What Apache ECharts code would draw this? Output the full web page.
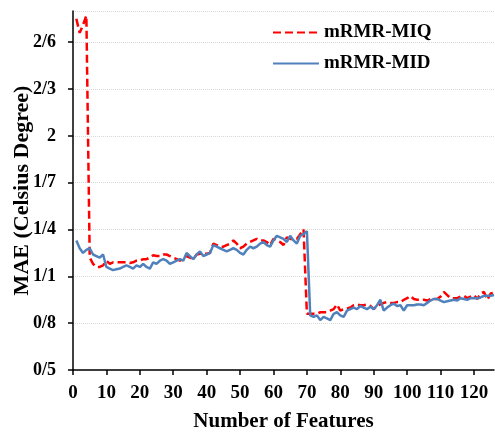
<!DOCTYPE html>
<html>
<head>
<meta charset="utf-8">
<script src="https://cdn.jsdelivr.net/npm/echarts@6/dist/echarts.min.js"></script>
<style>
  html, body { margin: 0; padding: 0; background: #fff; }
  #chart { width: 495px; height: 435px; }
</style>
</head>
<body>
<div id="chart"></div>
<script>
// number of features 1..126
var features = [];
for (var i = 1; i <= 126; i++) features.push(i);

// mRMR-MIQ (red dashed)
var miq = [
  2.75, 2.66, 2.71, 2.77, 1.22, 1.18, 1.16, 1.16, 1.17, 1.20,
  1.18, 1.19, 1.19, 1.19, 1.19, 1.19, 1.185, 1.19, 1.20, 1.20,
  1.21, 1.21, 1.22, 1.235, 1.23, 1.23, 1.24, 1.24, 1.23, 1.22,
  1.21, 1.20, 1.22, 1.23, 1.22, 1.21, 1.24, 1.245, 1.245, 1.245,
  1.25, 1.31, 1.30, 1.29, 1.29, 1.30, 1.31, 1.33, 1.31, 1.28,
  1.29, 1.31, 1.32, 1.33, 1.34, 1.33, 1.33, 1.32, 1.30, 1.34,
  1.33, 1.32, 1.30, 1.35, 1.34, 1.34, 1.34, 1.37, 1.40, 0.86,
  0.86, 0.86, 0.86, 0.87, 0.87, 0.87, 0.88, 0.89, 0.92, 0.88,
  0.89, 0.895, 0.90, 0.915, 0.92, 0.915, 0.915, 0.92, 0.91, 0.89,
  0.91, 0.92, 0.93, 0.935, 0.93, 0.93, 0.935, 0.935, 0.95, 0.96,
  0.975, 0.955, 0.95, 0.95, 0.95, 0.945, 0.955, 0.955, 0.955, 0.97,
  1.00, 0.98, 0.96, 0.96, 0.96, 0.97, 0.975, 0.96, 0.97, 0.98,
  0.955, 0.99, 1.00, 0.95, 0.99, 0.995
];

// mRMR-MID (blue solid)
var mid = [
  1.33, 1.28, 1.25, 1.27, 1.28, 1.24, 1.23, 1.22, 1.24, 1.16,
  1.15, 1.14, 1.145, 1.15, 1.16, 1.17, 1.16, 1.15, 1.17, 1.16,
  1.18, 1.16, 1.15, 1.19, 1.18, 1.20, 1.21, 1.20, 1.18, 1.19,
  1.20, 1.21, 1.20, 1.25, 1.23, 1.21, 1.24, 1.26, 1.23, 1.24,
  1.25, 1.30, 1.29, 1.28, 1.27, 1.26, 1.27, 1.28, 1.27, 1.25,
  1.24, 1.27, 1.29, 1.28, 1.29, 1.31, 1.32, 1.30, 1.29, 1.33,
  1.36, 1.35, 1.34, 1.32, 1.36, 1.33, 1.31, 1.36, 1.37, 1.39,
  0.85, 0.84, 0.85, 0.82, 0.84, 0.83, 0.82, 0.86, 0.87, 0.85,
  0.84, 0.88, 0.89, 0.90, 0.89, 0.91, 0.90, 0.89, 0.905, 0.89,
  0.915, 0.95, 0.88, 0.90, 0.915, 0.925, 0.91, 0.915, 0.88, 0.915,
  0.915, 0.915, 0.92, 0.92, 0.915, 0.93, 0.945, 0.955, 0.955, 0.945,
  0.935, 0.94, 0.945, 0.95, 0.945, 0.96, 0.955, 0.95, 0.96, 0.96,
  0.96, 0.965, 0.975, 0.975, 0.975, 0.98
];

var seriesNames = ['mRMR-MIQ', 'mRMR-MID'];

var serif = '"Liberation Serif", "Times New Roman", serif';

function pairs(ys) {
  return ys.map(function (v, k) { return [features[k], v]; });
}

var myChart = echarts.init(document.getElementById('chart'));
var option = {
  animation: false,
  backgroundColor: '#ffffff',
  legend: {
    data: seriesNames,
    orient: 'vertical',
    left: 267,
    top: 18,
    itemWidth: 46,
    itemHeight: 14,
    itemGap: 12,
    itemStyle: { opacity: 0 },
    textStyle: { fontFamily: serif, fontWeight: 'bold', fontSize: 19, color: '#000' }
  },
  grid: { left: 73, right: 1, top: 11, bottom: 65, containLabel: false, outerBoundsMode: 'none' },
  xAxis: {
    type: 'value',
    min: 0,
    max: 126,
    interval: 10,
    name: 'Number of Features',
    nameLocation: 'middle',
    nameGap: 41,
    nameMoveOverlap: false,
    nameTextStyle: { fontFamily: serif, fontWeight: 'bold', fontSize: 21, color: '#000' },
    axisLine: { lineStyle: { color: '#000', width: 1.5 } },
    axisTick: { show: true, length: 5, lineStyle: { color: '#000', width: 1.5 } },
    axisLabel: {
      showMaxLabel: false,
      margin: 14,
      fontFamily: serif, fontWeight: 'bold', fontSize: 19, color: '#000'
    },
    splitLine: { show: false }
  },
  yAxis: {
    type: 'value',
    min: 0.5,
    max: 2.8,
    interval: 0.3,
    name: 'MAE (Celsius Degree)',
    nameLocation: 'middle',
    nameGap: 40,
    nameMoveOverlap: false,
    nameTextStyle: { fontFamily: serif, fontWeight: 'bold', fontSize: 22, color: '#000' },
    axisLine: { show: true, lineStyle: { color: '#000', width: 1.5 } },
    axisTick: { show: true, length: 5, lineStyle: { color: '#000', width: 1.5 } },
    axisLabel: {
      showMaxLabel: false,
      margin: 17,
      fontFamily: serif, fontWeight: 'bold', fontSize: 18, color: '#000',
      formatter: function (v) {
        var r = Math.round(v * 10) / 10;
        return String(r).replace('.', '/');
      }
    },
    splitLine: { show: true, lineStyle: { color: '#d9d9d9', type: 'dotted', width: 1 } }
  },
  series: [
    {
      name: seriesNames[0],
      type: 'line',
      data: pairs(miq),
      symbol: 'none',
      color: '#ff0000',
      lineStyle: { color: '#ff0000', width: 2.5, type: [8, 4] }
    },
    {
      name: seriesNames[1],
      type: 'line',
      data: pairs(mid),
      symbol: 'none',
      color: '#4f81bd',
      lineStyle: { color: '#4f81bd', width: 2.5 }
    }
  ]
};
myChart.setOption(option, { notMerge: true });
</script>
</body>
</html>
